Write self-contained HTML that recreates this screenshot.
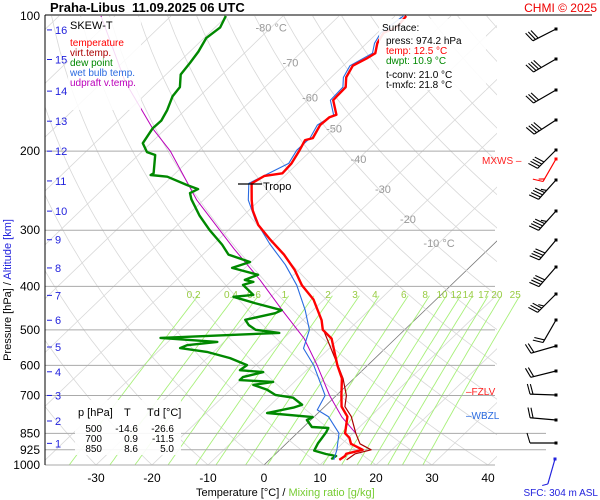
<!DOCTYPE html>
<html><head><meta charset="utf-8"><style>
body{margin:0;background:#fff;}
svg{display:block;font-family:"Liberation Sans",sans-serif;}
</style></head><body>
<svg id="chart" width="600" height="500" viewBox="0 0 600 500" xmlns="http://www.w3.org/2000/svg">
<defs>
<clipPath id="plotclip"><rect x="45" y="15" width="452" height="450"/></clipPath>
<clipPath id="mixclip"><rect x="45" y="15" width="478" height="450"/></clipPath>
</defs>
<rect x="0" y="0" width="600" height="500" fill="#fff"/>
<g id="grid"></g>
<g id="series"></g>
<g id="winds"></g>
<text x="50" y="12" font-size="13" font-weight="bold">Praha-Libus</text>
<text x="132" y="12" font-size="13" font-weight="bold">11.09.2025 06 UTC</text>
<text x="597" y="12" font-size="12" fill="#e00" text-anchor="end">CHMI © 2025</text>
<line x1="45" y1="15" x2="592" y2="15" stroke="#000"/>
<line x1="45" y1="15" x2="45" y2="465" stroke="#000"/>
<g>
<rect x="68" y="17" width="73" height="93" fill="#fff" opacity="0.85"/>
<text x="70" y="29" font-size="11">SKEW-T</text>
<text x="70" y="46" font-size="10" fill="#f00">temperature</text>
<text x="70" y="56" font-size="10" fill="#a00">virt.temp.</text>
<text x="70" y="66" font-size="10" fill="#080">dew point</text>
<text x="70" y="76" font-size="10" fill="#2a6be0">wet bulb temp.</text>
<text x="70" y="86" font-size="10" fill="#b0b">udpraft v.temp.</text>
</g>
<g>
<rect x="379" y="19" width="107" height="71" fill="#fff" opacity="0.9"/>
<text x="382" y="31" font-size="10">Surface:</text>
<text x="386" y="44" font-size="10">press: 974.2 hPa</text>
<text x="386" y="54" font-size="10" fill="#f00">temp: 12.5 °C</text>
<text x="386" y="64" font-size="10" fill="#080">dwpt: 10.9 °C</text>
<text x="386" y="78" font-size="10">t-conv: 21.0 °C</text>
<text x="386" y="88" font-size="10">t-mxfc: 21.8 °C</text>
</g>
<g>
<rect x="75" y="400" width="106" height="55" fill="#fff" opacity="0.9"/>
<text x="78" y="416" font-size="11">p [hPa]</text><text x="124" y="416" font-size="11">T</text><text x="147" y="416" font-size="11">Td [°C]</text>
<text x="102" y="432" font-size="10" text-anchor="end">500</text><text x="138" y="432" font-size="10" text-anchor="end">-14.6</text><text x="174" y="432" font-size="10" text-anchor="end">-26.6</text>
<text x="102" y="442" font-size="10" text-anchor="end">700</text><text x="138" y="442" font-size="10" text-anchor="end">0.9</text><text x="174" y="442" font-size="10" text-anchor="end">-11.5</text>
<text x="102" y="452" font-size="10" text-anchor="end">850</text><text x="138" y="452" font-size="10" text-anchor="end">8.6</text><text x="174" y="452" font-size="10" text-anchor="end">5.0</text>
</g>
<g>
<line x1="238" y1="184" x2="262" y2="184" stroke="#000" stroke-width="1.3"/>
<text x="263" y="190" font-size="11">Tropo</text>
</g>
<text x="482" y="164" font-size="10" fill="#f22">MXWS –</text>
<text x="466" y="395" font-size="10" fill="#f22">–FZLV</text>
<text x="466" y="419" font-size="10" fill="#2a6be0">–WBZL</text>
<text x="598" y="496" font-size="10" fill="#22d" text-anchor="end">SFC: 304 m ASL</text>
<text x="196" y="496" font-size="11">Temperature [°C]  /  <tspan fill="#7c3">Mixing ratio [g/kg]</tspan></text>
<text transform="translate(11,290) rotate(-90)" font-size="11" text-anchor="middle">Pressure [hPa]  /  <tspan fill="#22d">Altitude [km]</tspan></text>
<script>
// ---- data ----
const pressTicks=[100,200,300,400,500,600,700,850,925,1000];
const tempTicks=[-30,-20,-10,0,10,20,30,40];
const isoLabels=["-80 °C","-70","-60","-50","-40","-30","-20","-10 °C"];
const isoLabelTemps=[-80,-70,-60,-50,-40,-30,-20,-10];
const isoLabelPress=[106,127,152,178,208,243,283,320];
const mixRatios=[0.2,0.4,0.6,1,1.5,2,3,4,6,8,10,12,14,17,20,25];
const mixLabels=["0.2","0.4","0.6","1","","2","3","4","6","8","10","12","14","17","20","25"];
const kmLevels=[1,2,3,4,5,6,7,8,9,10,11,12,13,14,15,16];
const kmPress=[895,798,700,620,546,476,419,364,315,272,233,200,171.5,147,125,107.4];
const tempP=[974,955,944,925,897,870,850,780,741,700,641,600,523,500,476,428,398,368,340,315,292,271,257,236,227,224,213,199,189,187,175,168,166,154,150,144,137,129,124,121,115,109,106,100];
const tempT=[12.5,12.8,12.6,14.8,11.6,10.2,8.6,5.9,3.0,0.9,-2.2,-5.4,-11.4,-14.6,-16.6,-21.9,-26.6,-30.7,-35.5,-40.7,-45.6,-49.3,-51.4,-54.5,-53.6,-50.9,-51.1,-52.1,-53.0,-52.0,-53.1,-52.9,-52.1,-55.4,-55.5,-55.6,-57.3,-58.3,-57.1,-56.6,-58.1,-58.9,-57.6,-58.0];
const virtP=[974,944,925,897,850,780,741,700,641,600,500];
const virtT=[13.8,14.2,16.3,13.2,10.5,6.6,3.6,1.8,-2.0,-5.3,-14.5];
const wetP=[974,925,850,780,754,700,600,550,500,452,398,358,322,285,257,236,213,199,187,175,166,154,144,137,129,121,115,109,100];
const wetT=[11.5,10.2,7.5,2.5,-0.7,-2.0,-9.6,-14.6,-17.0,-21.4,-27.5,-33.4,-40.0,-47.0,-52.0,-55.0,-51.6,-52.6,-52.5,-53.6,-52.6,-55.9,-56.1,-57.8,-58.8,-57.1,-58.6,-59.4,-58.5];
const dewP=[970,955,945,929,895,868,845,827,823,794,782,766,745,734,708,698,680,663,653,647,637,621,615,599,578,560,549,541,532,521,508,500,488,475,459,452,436,422,418,397,391,387,377,364,353,340,323,300,278,256,248,243,238,228,226,224,204,201,192,178,171,162,151,144,135,127,120,112,106,100];
const dewT=[10.9,11.2,9.0,6.3,5.6,5.3,5.0,4.6,1.5,-0.7,-0.2,-9.1,-5.4,-4.4,-7.3,-11.0,-13.4,-16.8,-13.8,-20.1,-20.1,-17.4,-21.9,-21.6,-25.9,-31.2,-36.7,-36.0,-31.2,-42.1,-21.8,-26.6,-28.7,-30.3,-26.2,-25.6,-31.7,-36.7,-33.5,-37.2,-35.9,-37.8,-36.4,-42.3,-40.2,-45.4,-48.4,-53.3,-57.9,-62.3,-63.7,-63.0,-65.7,-70.8,-74.1,-73.9,-77.0,-79.0,-81.4,-82.4,-82.3,-83.2,-84.8,-85.2,-87.4,-87.9,-88.5,-89.6,-89.1,-90.2];
const updP=[850,782,700,600,523,452,387,330,257,200,178,140,100];
const updT=[10.5,5.0,-1.2,-9.0,-16.3,-25.5,-35.1,-45.5,-61.2,-75.0,-82.4,-96.0,-112.5];
const windY=[29,59,90,120,150,180,211,240,267,294,320,346,371,395,420,443];
const windDir=[243,240,240,237,225,222,222,220,221,225,210,254,256,272,275,270];
const windSpd=[30,40,30,40,40,45,45,40,40,35,20,20,20,20,20,10];

// ---- scales ----
const NS="http://www.w3.org/2000/svg";
function Y(p){return 16+195*Math.log(p/100);}
function X(T,p){return 264+5.6*T+(465-Y(p))*1.04;}
function el(tag,attrs,parent){const e=document.createElementNS(NS,tag);for(const k in attrs)e.setAttribute(k,attrs[k]);parent.appendChild(e);return e;}
const grid=document.getElementById('grid');
const series=document.getElementById('series');
const winds=document.getElementById('winds');
const gclip=el('g',{'clip-path':'url(#plotclip)'},grid);
const mclip=el('g',{'clip-path':'url(#mixclip)'},grid);

// isotherms
for(let T=-130;T<=40;T+=10){
  const l=el('line',{x1:X(T,1050),y1:Y(1050),x2:X(T,100),y2:Y(100),stroke:T===0?'#777':'#d8d8d8','stroke-width':0.8},gclip);
  
  
}
// dry adiabats
for(let th=-40;th<=220;th+=10){
  let d='';
  for(let p=1050;p>=100;p-=10){const T=(th+273.15)*Math.pow(p/1000,0.2857)-273.15;d+=(d?'L':'M')+X(T,p).toFixed(1)+','+Y(p).toFixed(1);}
  const a=el('path',{d:d,fill:'none',stroke:'#d8d8d8','stroke-width':0.8},gclip);
  
  
}
// mixing ratio lines
function tdFromW(w,p){const e=w*p/(622+w);const l=Math.log(e/6.112);return 243.5*l/(17.67-l);}
mixRatios.forEach((w,i)=>{
  let d='';
  for(let p=1050;p>=420;p-=10){d+=(d?'L':'M')+X(tdFromW(w,p),p).toFixed(1)+','+Y(p).toFixed(1);}
  const m=el('path',{d:d,fill:'none',stroke:'#a8f07a','stroke-width':0.9},mclip);
  
  
  if(mixLabels[i]){
    const t=el('text',{x:X(tdFromW(w,418),418)-5,y:298,'font-size':10,fill:'#9c4','text-anchor':'middle'},grid);
    t.textContent=mixLabels[i];
    
    
  }
});
// isobars
pressTicks.forEach(p=>{
  const y=Y(p);
  if(p>100){
    const l=el('line',{x1:45,y1:y,x2:(p===850||p===925)?546:495,y2:y,stroke:'#aaa','stroke-width':1},grid);
    
    
  }
  const t=el('text',{x:40,y:y+4,'font-size':12,'text-anchor':'end'},grid);
  t.textContent=p;
  
  
});
// km ticks
kmLevels.forEach((k,i)=>{
  const y=Y(kmPress[i]);
  const l=el('line',{x1:47,y1:y,x2:52,y2:y,stroke:'#22d','stroke-width':1},grid);
  
  
  const t=el('text',{x:55,y:y+4,'font-size':11,fill:'#22d'},grid);
  t.textContent=k;
  
  
});
// temp ticks
tempTicks.forEach(T=>{
  const t=el('text',{x:X(T,1000),y:482,'font-size':12,'text-anchor':'middle'},grid);
  t.textContent=T;
  
  
});
isoLabels.forEach((s,i)=>{
  const p=isoLabelPress[i];
  const t=el('text',{x:X(isoLabelTemps[i],p),y:Y(p)+4,'font-size':11,fill:'#999','text-anchor':'middle'},grid);
  t.textContent=s;
  
  
});
// series
function line(P,T,color,w){let d='';P.forEach((p,i)=>{d+=(i?'L':'M')+X(T[i],p).toFixed(1)+','+Y(p).toFixed(1);});return el('path',{d:d,fill:'none',stroke:color,'stroke-width':w,'stroke-linejoin':'round'},series);}
const s1=line(updP,updT,'#b0b',1);


const s2=line(dewP,dewT,'#080',2.4);


const s3=line(wetP,wetT,'#2a6be0',1.1);


const s4=line(virtP,virtT,'#a00',1.2);


const s5=line(tempP,tempT,'#f00',2.4);



// wind barbs
function barb(x,y,dir,spd,color,g){
  const r=dir*Math.PI/180;const ux=Math.sin(r),uy=-Math.cos(r);
  const L=26;const ex=x+ux*L,ey=y+uy*L;
  el('line',{x1:x,y1:y,x2:ex,y2:ey,stroke:color,'stroke-width':1.2},g);
  el('rect',{x:x-1.5,y:y-1.5,width:3,height:3,fill:color},g);
  const px=-uy,py=ux;let n=Math.round(spd/5);let pos=0;
  while(n>0){
    const bx=ex-ux*pos,by=ey-uy*pos;const len=n>=2?10:5;
    el('line',{x1:bx,y1:by,x2:bx+px*len+ux*3,y2:by+py*len+uy*3,stroke:color,'stroke-width':1.1},g);
    n-=n>=2?2:1;pos+=3;
  }
}
windY.forEach((y,i)=>{
  const g=el('g',{},winds);
  
  
  barb(556,y,windDir[i],windSpd[i],'#000',g);
});
const gr=el('g',{},winds);


barb(556,159,210,15,'#f00',gr);
const gb=el('g',{},winds);


barb(555,459,196,5,'#22d',gb);
</script>
</svg>
</body></html>
